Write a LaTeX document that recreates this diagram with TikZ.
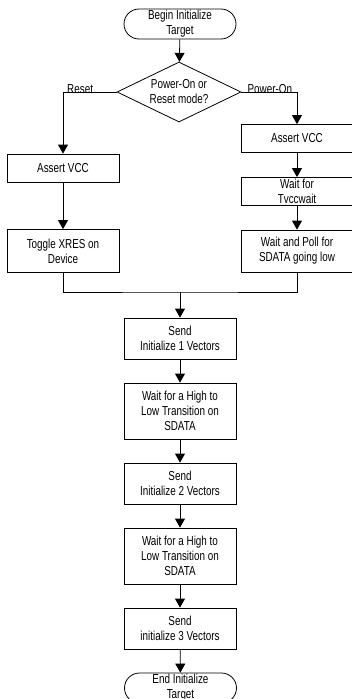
\documentclass[tikz,border=0pt]{standalone}
\usepackage{fontspec}
\setmainfont{Liberation Sans}[FakeStretch=0.76]
\usetikzlibrary{shapes.geometric,arrows.meta}
\begin{document}
\begin{tikzpicture}[x=1pt,y=-1pt,
  every node/.style={font=\fontsize{13}{15}\selectfont, align=center, inner sep=0pt},
  box/.style={draw, line width=0.8pt, minimum width=112pt},
  term/.style={draw, line width=0.8pt, rounded corners=15pt, minimum width=112pt, minimum height=30pt},
  dec/.style={draw, line width=0.8pt, diamond, minimum width=124pt, minimum height=60pt},
  ln/.style={line width=0.8pt},
  arr/.style={line width=0.8pt, -{Triangle[length=9pt,width=10pt]}},
  lbl/.style={font=\fontsize{13}{15}\selectfont}
]
\useasboundingbox (0,0) rectangle (352,699);
\clip (0,0) rectangle (352,699);
\fill[white] (0,0) rectangle (352,699);

\node[term] (begin) at (180,24) {Begin Initialize\\Target};
\node[dec, label={[align=center]center:Power-On or\\Reset mode?}] (dec) at (179,92) {};

\node[box, minimum height=28pt] (la) at (63,168) {Assert VCC};
\node[box, minimum height=43pt] (lt) at (63,251) {Toggle XRES on\\Device};

\node[box, minimum height=28pt] (ra) at (297,138.5) {Assert VCC};
\node[box, minimum height=28pt] (rw) at (297,191.5) {Wait for\\Tvccwait};
\node[box, minimum height=42pt] (rp) at (297,251) {Wait and Poll for\\SDATA going low};

\node[box, minimum height=41pt] (s1) at (180,338.5) {Send\\Initialize 1 Vectors};
\node[box, minimum height=56pt] (w1) at (180,411) {Wait for a High to\\Low Transition on\\SDATA};
\node[box, minimum height=41pt] (s2) at (180,483.5) {Send\\Initialize 2 Vectors};
\node[box, minimum height=56pt] (w2) at (180,556) {Wait for a High to\\Low Transition on\\SDATA};
\node[box, minimum height=41pt] (s3) at (180,628.5) {Send\\initialize 3 Vectors};
\node[term] (end) at (180.5,688) {End Initialize\\Target};

\draw[arr] (begin) -- (dec);

\coordinate (lc) at (63,92);
\coordinate (rc) at (297,92);
\draw[arr] (dec.west) -- (lc) -- (la);
\draw[arr] (dec.east) -- (rc) -- (ra);
\node[lbl, anchor=south west] (lreset) at ([xshift=4pt,yshift=-2pt]lc) {Reset};
\node[lbl, anchor=south west] (lpower) at ([xshift=6pt,yshift=-2pt]dec.east) {Power-On};

\draw[arr] (la) -- (lt);
\draw[arr] (ra) -- (rw);
\draw[arr] (rw) -- (rp);

\coordinate (m) at (180,292);
\draw[ln] (lt.south) |- (m) -| (rp.south);
\draw[arr] (m) -- (s1);
\draw[arr] (s1) -- (w1);
\draw[arr] (w1) -- (s2);
\draw[arr] (s2) -- (w2);
\draw[arr] (w2) -- (s3);
\draw[arr] (s3) -- (end);
\end{tikzpicture}
\end{document}
